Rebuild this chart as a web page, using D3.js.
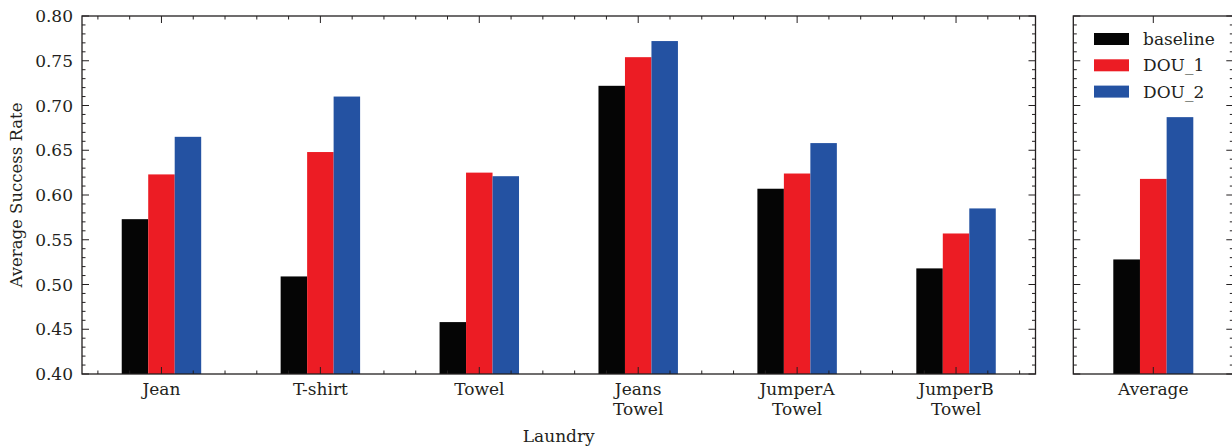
<!DOCTYPE html>
<html>
<head>
<meta charset="utf-8">
<script src="https://cdn.jsdelivr.net/npm/d3@7"></script>
<style>
  html, body { margin: 0; padding: 0; background: #ffffff; }
  svg { display: block; }
  text { font-family: "DejaVu Serif", serif; fill: #231f20; }
</style>
</head>
<body>
<svg id="chart" width="1232" height="446"></svg>
<script>
// Laundry categories (multi-line labels split on "\n")
const categories = ["Jean", "T-shirt", "Towel", "Jeans\nTowel", "JumperA\nTowel", "JumperB\nTowel"];
const series = ["baseline", "DOU_1", "DOU_2"];
const colors = ["#050505", "#ec1c24", "#2452a2"];

// Average success rate per category, one array per method
const baseline = [0.573, 0.509, 0.458, 0.722, 0.607, 0.518];
const dou1     = [0.623, 0.648, 0.625, 0.754, 0.624, 0.557];
const dou2     = [0.665, 0.710, 0.621, 0.772, 0.658, 0.585];

// Overall averages for the right-hand panel
const averageLabel = ["Average"];
const averageValues = [0.528, 0.618, 0.687];

const yTicks = [0.40, 0.45, 0.50, 0.55, 0.60, 0.65, 0.70, 0.75, 0.80];
const yLabel = "Average Success Rate";
const xLabel = "Laundry";

const svg = d3.select("#chart");
const axisColor = "#231f20";
const fontSize = 17;

const plotTop = 16, plotBottom = 374;
const y = d3.scaleLinear().domain([0.40, 0.80]).range([plotBottom, plotTop]);

// Panel scales: category index -> pixel
const xL = d3.scaleLinear().domain([-0.5, categories.length - 0.5]).range([82, 1035.5]);
const xR = d3.scaleLinear().domain([-0.5, 0.5]).range([1073.3, 1233.3]);

// Offsets of the three bars inside a group (in category units)
const inner = d3.scaleBand().domain(series).range([-0.25, 0.25]).padding(0);

const table = categories.map((c, i) => ({
  cat: c, i, vals: [baseline[i], dou1[i], dou2[i]]
}));

function drawBars(g, x, rows) {
  rows.forEach(r => {
    g.selectAll(null)
      .data(series.map((s, k) => ({ s, k, v: r.vals[k] })))
      .join("rect")
      .attr("x", d => x(r.i + inner(d.s)))
      .attr("width", d => x(r.i + inner(d.s) + inner.bandwidth()) - x(r.i + inner(d.s)))
      .attr("y", d => y(d.v))
      .attr("height", d => y(0.40) - y(d.v))
      .attr("fill", d => colors[d.k]);
  });
}

function drawFrame(g, x0, x1, majorX, minorX) {
  const minorY = d3.range(40, 81).map(v => v / 100).filter(v => !yTicks.some(t => Math.abs(t - v) < 1e-9));
  const lines = [];
  // y ticks on both sides, pointing inward
  yTicks.forEach(v => {
    lines.push([x0, y(v), x0 + 7, y(v)]);
    lines.push([x1, y(v), x1 - 7, y(v)]);
  });
  minorY.forEach(v => {
    lines.push([x0, y(v), x0 + 3.5, y(v)]);
    lines.push([x1, y(v), x1 - 3.5, y(v)]);
  });
  // x ticks on bottom and top, pointing inward
  majorX.forEach(px => {
    lines.push([px, plotBottom, px, plotBottom - 7]);
    lines.push([px, plotTop, px, plotTop + 7]);
  });
  minorX.forEach(px => {
    lines.push([px, plotBottom, px, plotBottom - 3.5]);
    lines.push([px, plotTop, px, plotTop + 3.5]);
  });
  g.selectAll(null).data(lines).join("line")
    .attr("x1", d => d[0]).attr("y1", d => d[1])
    .attr("x2", d => d[2]).attr("y2", d => d[3])
    .attr("stroke", axisColor).attr("stroke-width", 1);
  g.append("rect")
    .attr("x", x0).attr("y", plotTop)
    .attr("width", x1 - x0).attr("height", plotBottom - plotTop)
    .attr("fill", "none").attr("stroke", axisColor).attr("stroke-width", 1.3);
}

// ---- Left panel ----
const gL = svg.append("g");
drawBars(gL, xL, table);
const majorL = categories.map((c, i) => xL(i));
const minorL = d3.range(-0.4, categories.length - 0.5, 0.2)
  .filter(v => Math.abs(v - Math.round(v)) > 1e-6)
  .map(v => xL(v));
drawFrame(gL, xL(-0.5), xL(categories.length - 0.5), majorL, minorL);

// y tick labels
gL.selectAll(null).data(yTicks).join("text")
  .attr("x", 73).attr("y", d => y(d))
  .attr("dy", "0.36em")
  .attr("text-anchor", "end")
  .attr("font-size", fontSize)
  .text(d => d3.format(".2f")(d));

// category labels
categories.forEach((c, i) => {
  const t = gL.append("text")
    .attr("x", xL(i)).attr("y", 395)
    .attr("text-anchor", "middle")
    .attr("font-size", fontSize);
  c.split("\n").forEach((line, k) => {
    t.append("tspan").attr("x", xL(i)).attr("dy", k === 0 ? 0 : 20).text(line);
  });
});

// axis titles
gL.append("text")
  .attr("transform", `translate(22,${(plotTop + plotBottom) / 2}) rotate(-90)`)
  .attr("text-anchor", "middle")
  .attr("font-size", 16.5)
  .text(yLabel);
gL.append("text")
  .attr("x", (xL(-0.5) + xL(categories.length - 0.5)) / 2).attr("y", 442)
  .attr("text-anchor", "middle")
  .attr("font-size", fontSize)
  .text(xLabel);

// ---- Right panel ----
const gR = svg.append("g");
drawBars(gR, xR, [{ cat: averageLabel[0], i: 0, vals: averageValues }]);
drawFrame(gR, xR(-0.5), xR(0.5), [xR(0)], []);
gR.append("text")
  .attr("x", xR(0)).attr("y", 395)
  .attr("text-anchor", "middle")
  .attr("font-size", fontSize)
  .text(averageLabel[0]);

// legend
const legend = gR.append("g");
series.forEach((s, k) => {
  const cy = 39 + k * 26.3;
  legend.append("rect")
    .attr("x", 1094).attr("y", cy - 6)
    .attr("width", 35).attr("height", 12)
    .attr("fill", colors[k]);
  legend.append("text")
    .attr("x", 1143).attr("y", cy)
    .attr("dy", "0.36em")
    .attr("font-size", fontSize)
    .text(s);
});
</script>
</body>
</html>
